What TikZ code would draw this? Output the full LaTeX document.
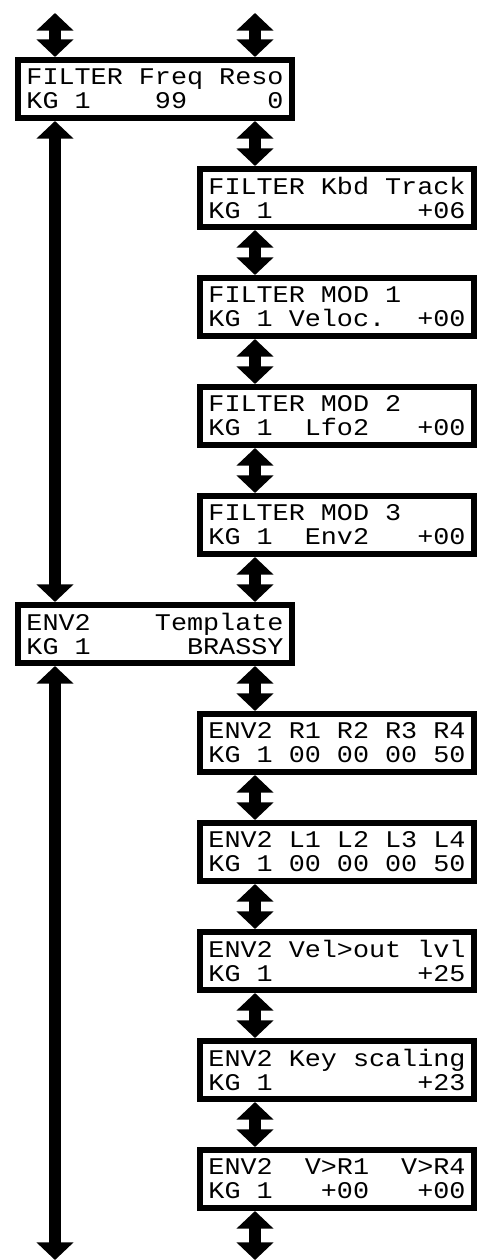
\documentclass[tikz,border=0pt]{standalone}
\usepackage{fontspec}
\newfontfamily\lcdfont{Liberation Mono}[FakeStretch=1.12]
\definecolor{PanelBlack}{HTML}{000000}
\definecolor{PanelWhite}{HTML}{ffffff}
\usetikzlibrary{arrows.meta, positioning, calc}
\tikzset{
    % LCD display boxes, 16x2 characters
    display/.style={
        rectangle,
        draw=PanelBlack,
        fill=PanelWhite,
        line width=0.16cm,
        minimum width=6.86cm,
        minimum height=1.44cm,
        inner sep=0pt,
        align=left,
        font=\lcdfont\fontsize{17pt}{17.07pt}\selectfont
    },
    % fat double-headed navigation arrows
    nav arrow/.style={
        {Triangle[width=0.9cm,length=0.44cm]}-{Triangle[width=0.9cm,length=0.44cm]},
        line width=0.3cm,
        PanelBlack
    }
}

\begin{document}
\begin{tikzpicture}
    \useasboundingbox (0,0) rectangle (11.975,-31.5);

    % Free arrow ends
    \coordinate (topL) at (1.375,-0.325);
    \coordinate (topR) at (6.375,-0.325);
    \coordinate (botL) at (1.375,-31.5);
    \coordinate (botR) at (6.375,-31.5);

    % Filter pages
    \node[display] (freq) at (3.875,-2.225) {FILTER Freq Reso\\KG~1~~~~99~~~~~0};
    \node[display] (kbd) at (8.425,-4.95) {FILTER Kbd Track\\KG~1~~~~~~~~~+06};
    \node[display] (modone) at (8.425,-7.675) {FILTER MOD 1~~~~\\KG~1 Veloc.~~+00};
    \node[display] (modtwo) at (8.425,-10.4) {FILTER MOD 2~~~~\\KG~1~~Lfo2~~~+00};
    \node[display] (modthree) at (8.425,-13.125) {FILTER MOD 3~~~~\\KG~1~~Env2~~~+00};

    % Envelope 2 pages
    \node[display] (template) at (3.875,-15.85) {ENV2~~~~Template\\KG~1~~~~~~BRASSY};
    \node[display] (rates) at (8.425,-18.575) {ENV2 R1 R2 R3 R4\\KG~1 00 00 00 50};
    \node[display] (levels) at (8.425,-21.3) {ENV2 L1 L2 L3 L4\\KG~1 00 00 00 50};
    \node[display] (velout) at (8.425,-24.025) {ENV2 Vel>out lvl\\KG~1~~~~~~~~~+25};
    \node[display] (keyscale) at (8.425,-26.75) {ENV2 Key scaling\\KG~1~~~~~~~~~+23};
    \node[display] (velrate) at (8.425,-29.475) {ENV2~~V>R1~~V>R4\\KG~1~~~+00~~~+00};

    % Left column jumps
    \draw[nav arrow] (topL) -- (topL |- freq.north);
    \draw[nav arrow] (freq.south -| topL) -- (template.north -| topL);
    \draw[nav arrow] (template.south -| topL) -- (botL);

    % Right column steps
    \draw[nav arrow] (topR) -- (topR |- freq.north);
    \draw[nav arrow] (freq.south -| topR) -- (kbd.north -| topR);
    \draw[nav arrow] (kbd.south -| topR) -- (modone.north -| topR);
    \draw[nav arrow] (modone.south -| topR) -- (modtwo.north -| topR);
    \draw[nav arrow] (modtwo.south -| topR) -- (modthree.north -| topR);
    \draw[nav arrow] (modthree.south -| topR) -- (template.north -| topR);
    \draw[nav arrow] (template.south -| topR) -- (rates.north -| topR);
    \draw[nav arrow] (rates.south -| topR) -- (levels.north -| topR);
    \draw[nav arrow] (levels.south -| topR) -- (velout.north -| topR);
    \draw[nav arrow] (velout.south -| topR) -- (keyscale.north -| topR);
    \draw[nav arrow] (keyscale.south -| topR) -- (velrate.north -| topR);
    \draw[nav arrow] (velrate.south -| topR) -- (botR);
\end{tikzpicture}
\end{document}
